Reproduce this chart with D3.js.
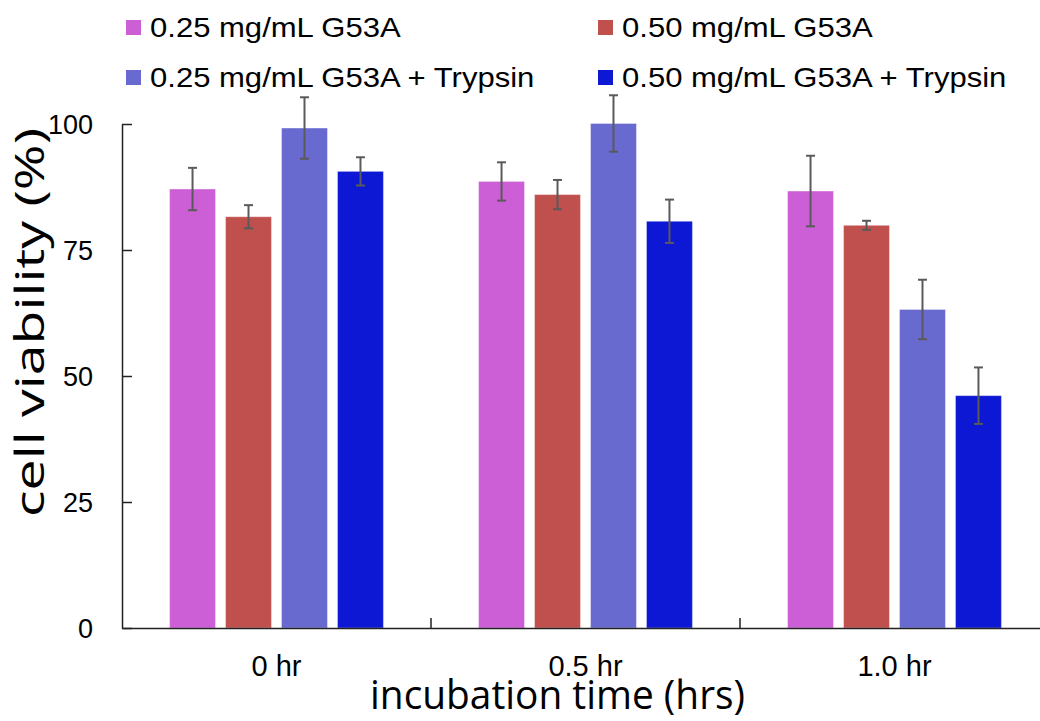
<!DOCTYPE html>
<html>
<head>
<meta charset="utf-8">
<script src="https://cdn.jsdelivr.net/npm/d3@7"></script>
<style>
  body { margin: 0; background: #fff; }
  text { font-family: "Liberation Sans", Arial, sans-serif; fill: #000; }
  .axisTitle { font-family: "Open Sans", "Noto Sans", sans-serif; }
</style>
</head>
<body>
<div id="chart"></div>
<script>
// Data
var categories = ["0 hr", "0.5 hr", "1.0 hr"];
var seriesNames = ["0.25 mg/mL G53A", "0.50 mg/mL G53A", "0.25 mg/mL G53A + Trypsin", "0.50 mg/mL G53A + Trypsin"];
var seriesColors = ["#cc5fd5", "#c0504d", "#696ad0", "#0c18d3"];

var g25 = [87.1, 88.6, 86.7];
var g50 = [81.6, 86.0, 79.9];
var g25t = [99.2, 100.1, 63.2];
var g50t = [90.6, 80.7, 46.1];

var g25Err = [4.2, 3.8, 7.0];
var g50Err = [2.3, 2.9, 0.9];
var g25tErr = [6.1, 5.6, 5.9];
var g50tErr = [2.8, 4.3, 5.6];

var yTicks = [0, 25, 50, 75, 100];

var svgWidth = 1040;
var svgHeight = 721;

var svg = d3.select("#chart")
    .append("svg")
    .attr("width", svgWidth)
    .attr("height", svgHeight);

var values = [g25, g50, g25t, g50t];
var errors = [g25Err, g50Err, g25tErr, g50tErr];

var data = [];
categories.forEach(function(cat, ci) {
    seriesNames.forEach(function(s, si) {
        data.push({ cat: cat, series: s, si: si, value: values[si][ci], err: errors[si][ci] });
    });
});

// scales
var xScale = d3.scaleBand()
    .domain(categories)
    .range([122, 1049])
    .padding(0);

var xInner = d3.scaleBand()
    .domain(seriesNames)
    .range([0, xScale.bandwidth()])
    .paddingInner(0.18)
    .paddingOuter(0.85);

var yScale = d3.scaleLinear()
    .domain([0, 100])
    .range([628, 124]);

// bars
svg.append("g").selectAll("rect")
    .data(data)
    .enter()
    .append("rect")
    .attr("x", d => xScale(d.cat) + xInner(d.series))
    .attr("y", d => yScale(d.value))
    .attr("width", xInner.bandwidth())
    .attr("height", d => yScale(0) - yScale(d.value))
    .attr("fill", d => seriesColors[d.si])
    .attr("stroke", "#ffffff")
    .attr("stroke-opacity", 0.35)
    .attr("stroke-width", 1);

// error bars
var errGroup = svg.append("g")
    .attr("stroke", "#5a5a5a")
    .attr("stroke-width", 2);

errGroup.selectAll(".errLine")
    .data(data)
    .enter()
    .append("line")
    .attr("x1", d => xScale(d.cat) + xInner(d.series) + xInner.bandwidth() / 2)
    .attr("x2", d => xScale(d.cat) + xInner(d.series) + xInner.bandwidth() / 2)
    .attr("y1", d => yScale(d.value + d.err))
    .attr("y2", d => yScale(d.value - d.err));

[1, -1].forEach(function(sign) {
    errGroup.selectAll(".cap" + sign)
        .data(data)
        .enter()
        .append("line")
        .attr("x1", d => xScale(d.cat) + xInner(d.series) + xInner.bandwidth() / 2 - 4.5)
        .attr("x2", d => xScale(d.cat) + xInner(d.series) + xInner.bandwidth() / 2 + 4.5)
        .attr("y1", d => yScale(d.value + sign * d.err))
        .attr("y2", d => yScale(d.value + sign * d.err));
});

// y axis (ticks point inward)
var leftAxis = d3.axisRight(yScale)
    .tickValues(yTicks)
    .tickSize(10)
    .tickSizeOuter(0)
    .tickFormat("");

var yAxisG = svg.append("g")
    .attr("transform", "translate(122, 0)")
    .call(leftAxis);
yAxisG.selectAll("path, line").attr("stroke", "#222").attr("stroke-width", 1.5);

svg.append("g").selectAll("text")
    .data(yTicks)
    .enter()
    .append("text")
    .attr("x", 93)
    .attr("y", d => yScale(d))
    .attr("dy", "0.36em")
    .attr("text-anchor", "end")
    .attr("font-size", "27px")
    .text(d => d);

// x axis
var bottomAxis = d3.axisTop(xScale)
    .tickSize(0)
    .tickFormat("");

var xAxisG = svg.append("g")
    .attr("transform", "translate(0, 628)")
    .call(bottomAxis);
xAxisG.select("path").attr("stroke", "#222").attr("stroke-width", 1.5);

// category boundary ticks
svg.append("g").selectAll("line")
    .data(categories.slice(1))
    .enter()
    .append("line")
    .attr("x1", d => xScale(d))
    .attr("x2", d => xScale(d))
    .attr("y1", 628)
    .attr("y2", 618)
    .attr("stroke", "#222")
    .attr("stroke-width", 1.5);

svg.append("g").selectAll("text")
    .data(categories)
    .enter()
    .append("text")
    .attr("x", d => xScale(d) + xScale.bandwidth() / 2)
    .attr("y", 676)
    .attr("text-anchor", "middle")
    .attr("font-size", "29px")
    .text(d => d);

// axis titles
svg.append("text")
    .attr("class", "axisTitle")
    .attr("x", 370)
    .attr("y", 709)
    .attr("font-size", "41px")
    .attr("textLength", 375)
    .attr("lengthAdjust", "spacingAndGlyphs")
    .text("incubation time (hrs)");

svg.append("text")
    .attr("class", "axisTitle")
    .attr("transform", "translate(44, 517) rotate(-90)")
    .attr("font-size", "41px")
    .attr("textLength", 389)
    .attr("lengthAdjust", "spacingAndGlyphs")
    .text("cell viability (%)");

// legend
var legendX = [126, 598];
var legendY = [27, 77];

var legend = svg.append("g").selectAll("g")
    .data(seriesNames)
    .enter()
    .append("g")
    .attr("transform", (d, i) => `translate(${legendX[i % 2]}, ${legendY[Math.floor(i / 2)]})`);

legend.append("rect")
    .attr("x", 0)
    .attr("y", -7)
    .attr("width", 15)
    .attr("height", 15)
    .attr("fill", (d, i) => seriesColors[i]);

legend.append("text")
    .attr("transform", "translate(24, 10) scale(1.15, 1)")
    .attr("font-size", "27px")
    .text(d => d);
</script>
</body>
</html>
